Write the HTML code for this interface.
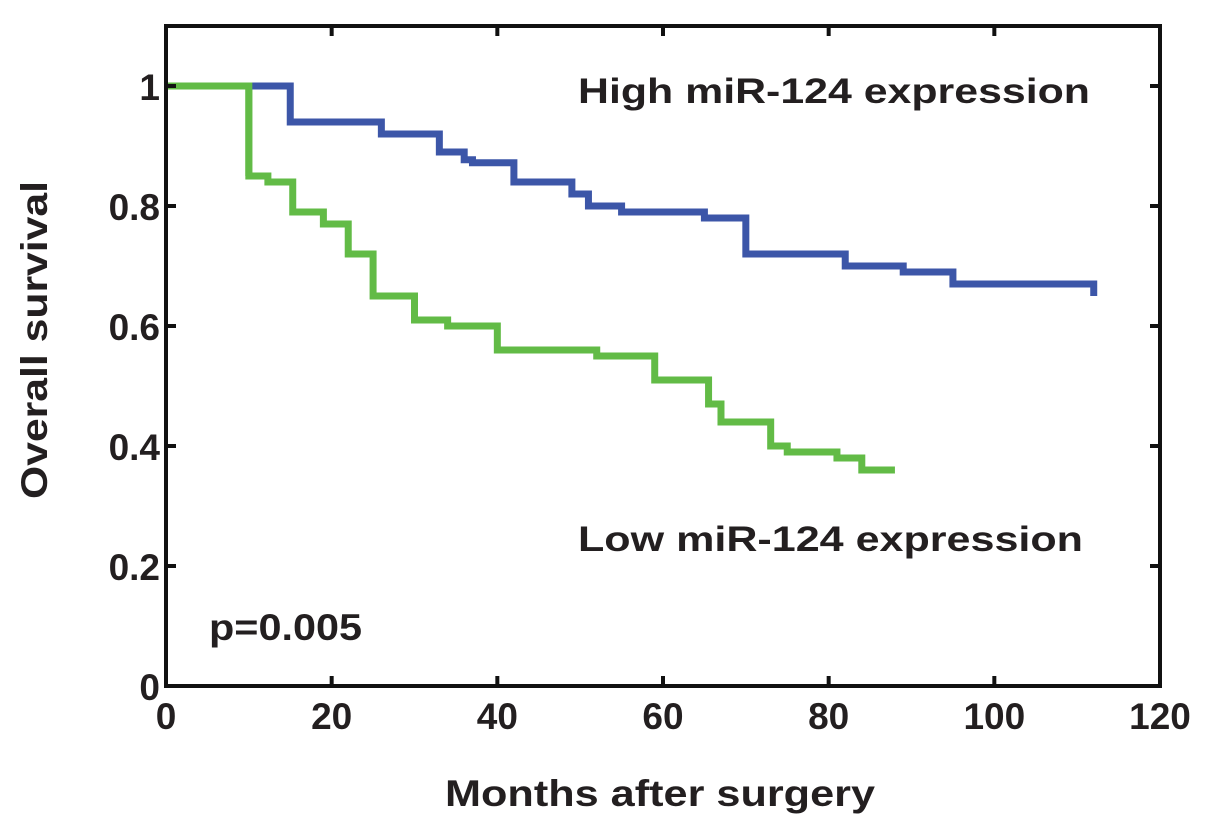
<!DOCTYPE html>
<html><head><meta charset="utf-8"><style>
html,body{margin:0;padding:0;background:#fff}
svg{display:block}
text{font-family:"Liberation Sans",Arial,sans-serif;font-weight:bold;fill:#231f20}
</style></head><body>
<svg id="chart" width="1205" height="827" viewBox="0 0 1205 827" xmlns="http://www.w3.org/2000/svg"></svg>
<script>
const highTimes = [0, 15, 26, 33, 36, 37, 42, 49, 51, 55, 65, 70, 82, 89, 95, 112];
const highSurv  = [1, 0.94, 0.92, 0.89, 0.877, 0.872, 0.84, 0.82, 0.80, 0.79, 0.78, 0.72, 0.70, 0.69, 0.67, 0.655];
const highEnd = 112;
const lowTimes = [0, 10, 12.3, 15.3, 19, 22, 25, 30, 34, 40, 52, 59, 65.5, 67, 73, 75, 81, 84];
const lowSurv  = [1, 0.85, 0.84, 0.79, 0.77, 0.72, 0.65, 0.61, 0.60, 0.56, 0.55, 0.51, 0.47, 0.44, 0.40, 0.39, 0.38, 0.36];
const lowEnd = 88;
const xTicks = [0, 20, 40, 60, 80, 100, 120];
const yTicks = [0, 0.2, 0.4, 0.6, 0.8, 1];
const yTickLabels = ["0", "0.2", "0.4", "0.6", "0.8", "1"];

const NS = "http://www.w3.org/2000/svg";
const svg = document.getElementById('chart');
const L = 166, R = 1160, B = 686, T = 26;
const xs = t => L + t * (R - L) / 120;
const ys = s => B - s * 600;
function mk(tag, attrs, parent) {
  const e = document.createElementNS(NS, tag);
  for (const k in attrs) e.setAttribute(k, attrs[k]);
  (parent || svg).appendChild(e);
  return e;
}
function stepPath(times, surv, end) {
  let d = `M${xs(times[0])},${ys(surv[0])}`;
  for (let i = 1; i < times.length; i++) {
    d += ` H${xs(times[i])} V${ys(surv[i])}`;
  }
  d += ` H${xs(end)}`;
  return d;
}
const low = mk('path', {d: stepPath(lowTimes, lowSurv, lowEnd), fill: 'none', stroke: '#62bb46', 'stroke-width': 7});


const high = mk('path', {d: stepPath(highTimes, highSurv, highEnd) + ` V${ys(0.65)}`, fill: 'none', stroke: '#3c56a8', 'stroke-width': 7});


const lowTop = mk('path', {d: `M${xs(0)},${ys(1)} H${xs(lowTimes[1])} V${ys(lowSurv[1])}`, fill: 'none', stroke: '#62bb46', 'stroke-width': 7});



const box = mk('rect', {x: L, y: T, width: R - L, height: B - T, fill: 'none', stroke: '#111', 'stroke-width': 4});



xTicks.forEach(t => {
  const g = mk('g', {});
  
  
  mk('line', {x1: xs(t), x2: xs(t), y1: B, y2: B - 10, stroke: '#111', 'stroke-width': 4}, g);
  mk('line', {x1: xs(t), x2: xs(t), y1: T, y2: T + 10, stroke: '#111', 'stroke-width': 4}, g);
  const tx = mk('text', {x: xs(t), y: B + 43, 'font-size': 37, 'text-anchor': 'middle'}, g);
  tx.textContent = String(t);
});
yTicks.forEach((s, i) => {
  const g = mk('g', {});
  
  
  mk('line', {x1: L, x2: L + 10, y1: ys(s), y2: ys(s), stroke: '#111', 'stroke-width': 4}, g);
  mk('line', {x1: R, x2: R - 10, y1: ys(s), y2: ys(s), stroke: '#111', 'stroke-width': 4}, g);
  const tx = mk('text', {x: L - 6, y: ys(s) + 14, 'font-size': 37, 'text-anchor': 'end'}, g);
  tx.textContent = yTickLabels[i];
});
function label(txt, x, y, size, name, extra) {
  const t = mk('text', Object.assign({x: x, y: y, 'font-size': size}, extra || {}));
  t.textContent = txt;
  
  
  return t;
}
label('High miR-124 expression', 578, 103, 35, 'high-legend-label', {textLength: 512, lengthAdjust: 'spacingAndGlyphs'});
label('Low miR-124 expression', 578, 551, 35, 'low-legend-label', {textLength: 505, lengthAdjust: 'spacingAndGlyphs'});
label('p=0.005', 209, 640, 37, 'p-value', {textLength: 153, lengthAdjust: 'spacingAndGlyphs'});
label('Months after surgery', 660, 806, 37, 'x-axis-title', {'text-anchor': 'middle', textLength: 430, lengthAdjust: 'spacingAndGlyphs'});
label('Overall survival', 0, 0, 37, 'y-axis-title', {'text-anchor': 'middle', transform: 'translate(47,340) rotate(-90)', textLength: 318, lengthAdjust: 'spacingAndGlyphs'});
</script>
</body></html>
